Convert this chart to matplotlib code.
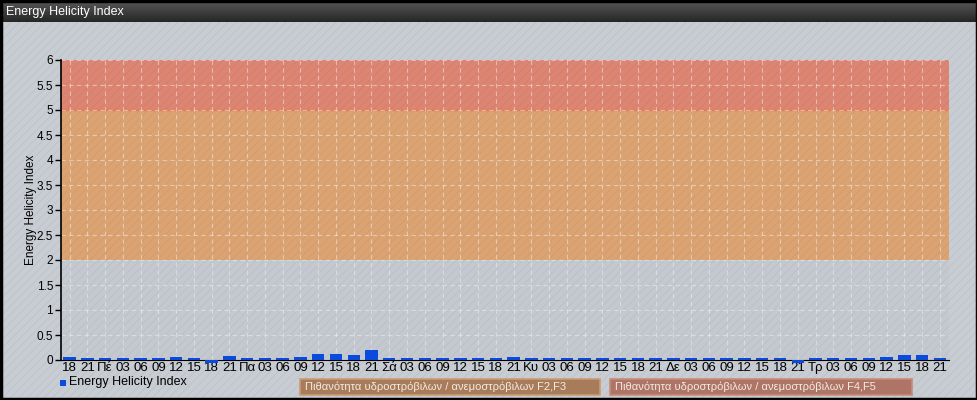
import matplotlib
matplotlib.use("Agg")
import matplotlib.pyplot as plt
from matplotlib.patches import Rectangle
from matplotlib.colors import LinearSegmentedColormap
import numpy as np

plt.rcParams['font.family'] = ['Liberation Sans', 'DejaVu Sans']
plt.rcParams['hatch.linewidth'] = 0.6

categories = ['18', '21', 'Πέ', '03', '06', '09', '12', '15', '18', '21',
              'Πα', '03', '06', '09', '12', '15', '18', '21',
              'Σά', '03', '06', '09', '12', '15', '18', '21',
              'Κυ', '03', '06', '09', '12', '15', '18', '21',
              'Δε', '03', '06', '09', '12', '15', '18', '21',
              'Τρ', '03', '06', '09', '12', '15', '18', '21']
values = [0.06, 0.04, 0.04, 0.04, 0.04, 0.045, 0.06, 0.04, -0.06, 0.08,
          0.045, 0.04, 0.04, 0.065, 0.12, 0.12, 0.10, 0.2,
          0.04, 0.04, 0.04, 0.04, 0.04, 0.04, 0.04, 0.06,
          0.04, 0.04, 0.04, 0.04, 0.04, 0.04, 0.04, 0.04,
          0.04, 0.04, 0.04, 0.04, 0.04, 0.04, 0.05, -0.05,
          0.04, 0.04, 0.04, 0.04, 0.06, 0.11, 0.11, 0.04]
yticks = [0, 0.5, 1, 1.5, 2, 2.5, 3, 3.5, 4, 4.5, 5, 5.5, 6]
ytick_labels = ['0', '0.5', '1', '1.5', '2', '2.5', '3', '3.5', '4', '4.5', '5', '5.5', '6']
bands = [(0, 2, '#c3c9cf'), (2, 5, '#dca372'), (5, 6, '#dd8573')]
title = 'Energy Helicity Index'
series_name = 'Energy Helicity Index'
legend_boxes = ['Πιθανότητα υδροστρόβιλων / ανεμοστρόβιλων F2,F3',
                'Πιθανότητα υδροστρόβιλων / ανεμοστρόβιλων F4,F5']
legend_box_colors = ['#a87c5a', '#ae7466']
legend_box_edges = ['#c89c74', '#c88a7c']

W, H = 978, 400
fig = plt.figure(figsize=(W / 100, H / 100), dpi=100)
fig.patch.set_facecolor('#c8cdd3')

# hatched background
bg = Rectangle((0, 0), 1, 1, transform=fig.transFigure, facecolor='#c8cdd3',
               edgecolor='#bcc2c9', hatch='////', linewidth=0, zorder=-10)
fig.add_artist(bg)

# title bar gradient
tax = fig.add_axes([0, 1 - 22 / H, 1, 22 / H])
grad = np.linspace(0, 1, 50).reshape(-1, 1)
cm = LinearSegmentedColormap.from_list('tb', ['#5a5a5a', '#262626'])
tax.imshow(grad, aspect='auto', cmap=cm, extent=[0, 1, 0, 1], origin='upper')
tax.set_axis_off()
tax.text(6 / W, 0.45, title, color='white', fontsize=9, va='center', ha='left',
         transform=tax.transAxes)

# outer border
fig.add_artist(Rectangle((0.001, 0.002), 0.998, 0.996, transform=fig.transFigure,
                         fill=False, edgecolor='black', linewidth=2.5, zorder=20))

ax = fig.add_axes([60.7 / W, 1 - 360 / H, 888 / W, 300 / H])
ax.set_facecolor('none')
x = np.arange(len(categories))
ax.set_xlim(-0.5, len(categories) - 0.5)
ax.set_ylim(0, 6)

for lo, hi, c in bands:
    ax.axhspan(lo, hi, facecolor=c, edgecolor='#0000000c', hatch='////',
               linewidth=0, zorder=0)
ax.axhline(5, color='#e87a50', linewidth=1, zorder=1)

# grid
for yv in yticks[1:]:
    ax.axhline(yv, color='#f4f0ec', alpha=0.5, linewidth=0.8, dashes=(4, 3), zorder=1)
for xv in x:
    ax.axvline(xv, color='#f4f0ec', alpha=0.5, linewidth=0.8, dashes=(4, 3), zorder=1)

ax.bar(x, values, width=0.7, color='#0a4adc', zorder=6, clip_on=False)

ax.set_xticks(x)
ax.set_xticklabels(categories, fontsize=9.5)
ax.set_yticks(yticks)
ax.set_yticklabels(ytick_labels, fontsize=8.5)
ax.tick_params(axis='x', length=0, pad=1.5)
ax.tick_params(axis='y', length=4, width=1, pad=1.5)
for s in ['top', 'right']:
    ax.spines[s].set_visible(False)
ax.spines['left'].set_linewidth(1.2)
ax.spines['bottom'].set_linewidth(0.8)
ax.spines['left'].set_zorder(5)
ax.spines['bottom'].set_zorder(5)
ax.set_ylabel('Energy Helicity Index', fontsize=8.5)
ax.yaxis.set_label_coords(-0.027, 0.5)

# legend
fig.add_artist(Rectangle((60 / W, 1 - 386 / H), 6 / W, 6 / H, transform=fig.transFigure,
                         facecolor='#0a4adc', edgecolor='none'))
fig.text(69 / W, 1 - 382 / H, series_name, fontsize=9, va='center', ha='left')

box_x = [300, 610]
box_w = [300, 302]
for bx, bw, lab, fc, ec in zip(box_x, box_w, legend_boxes, legend_box_colors, legend_box_edges):
    fig.add_artist(Rectangle((bx / W, 1 - 395 / H), bw / W, 16 / H, transform=fig.transFigure,
                             facecolor=fc, edgecolor=ec, linewidth=1.2))
    fig.text((bx + 5) / W, 1 - 387 / H, lab, fontsize=8, color='#f3ebe2', va='center', ha='left')

fig.savefig('out.png', dpi=100)
